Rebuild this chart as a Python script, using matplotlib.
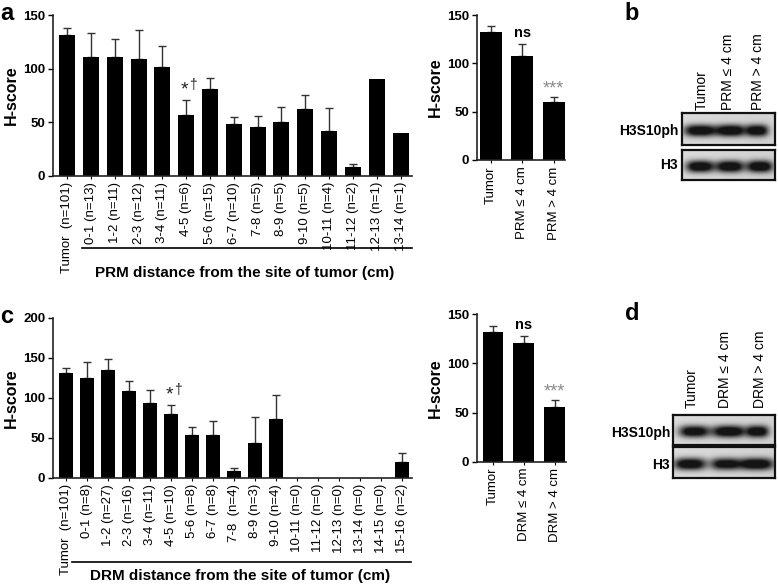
import numpy as np
import matplotlib
matplotlib.use('Agg')
import matplotlib.pyplot as plt
from matplotlib.lines import Line2D

plt.rcParams['font.family'] = ['Liberation Sans', 'DejaVu Sans']

# ---- data ----
prm_labels = ['Tumor  (n=101)', '0-1 (n=13)', '1-2 (n=11)', '2-3 (n=12)', '3-4 (n=11)',
              '4-5 (n=6)', '5-6 (n=15)', '6-7 (n=10)', '7-8 (n=5)', '8-9 (n=5)',
              '9-10 (n=5)', '10-11 (n=4)', '11-12 (n=2)', '12-13 (n=1)', '13-14 (n=1)']
prm_score = [131, 111, 111, 108.6, 101, 57, 81, 48, 45, 50, 62.5, 42, 8, 90, 40]
prm_err   = [7, 22.5, 17, 27.5, 20.5, 13.5, 10.5, 7, 10.5, 14.5, 12.5, 21.5, 2.5, 0, 0]

prm_grp_labels = ['Tumor', 'PRM \u2264 4 cm', 'PRM > 4 cm']
prm_grp_score  = [132, 108, 59.5]
prm_grp_err    = [7, 11.5, 5.5]

drm_labels = ['Tumor  (n=101)', '0-1 (n=8)', '1-2 (n=27)', '2-3 (n=16)', '3-4 (n=11)',
              '4-5 (n=10)', '5-6 (n=8)', '6-7 (n=8)', '7-8  (n=4)', '8-9 (n=3)',
              '9-10 (n=4)', '10-11 (n=0)', '11-12 (n=0)', '12-13 (n=0)', '13-14 (n=0)',
              '14-15 (n=0)', '15-16 (n=2)']
drm_score = [130.5, 125, 135, 109, 93, 79.5, 53, 54, 9, 43, 73, 0, 0, 0, 0, 0, 20]
drm_err   = [7, 20, 13, 12, 17, 11, 10, 17.5, 3.5, 33, 31, 0, 0, 0, 0, 0, 10.5]

drm_grp_labels = ['Tumor', 'DRM \u2264 4 cm', 'DRM > 4 cm']
drm_grp_score  = [131.5, 121, 55.5]
drm_grp_err    = [7, 7, 7]

W, H = 778, 584
fig = plt.figure(figsize=(W / 100, H / 100), dpi=100)


def rect(x0, y0, x1, y1):
    # pixel box (top-left origin) -> figure fraction rect
    return [x0 / W, 1 - y1 / H, (x1 - x0) / W, (y1 - y0) / H]


def bar_panel(r, vals, errs, labels, ylim, yticks, xlim, width, lab_size):
    ax = fig.add_axes(r)
    vals = np.asarray(vals, float)
    errs = np.asarray(errs, float)
    x = np.arange(len(vals))
    ax.bar(x, vals, width=width, color='black', zorder=2)
    m = errs > 0
    ax.errorbar(x[m], vals[m], yerr=[np.zeros(m.sum()), errs[m]], fmt='none',
                ecolor='#333333', elinewidth=1, capsize=3, capthick=1, zorder=1)
    ax.set_xlim(*xlim)
    ax.set_ylim(*ylim)
    ax.set_yticks(yticks)
    ax.set_xticks(x)
    ax.set_xticklabels(labels, rotation=90, fontsize=lab_size, va='top', ha='center')
    for lab in ax.get_yticklabels():
        lab.set_fontweight('bold')
        lab.set_fontsize(9.5)
    ax.tick_params(axis='y', length=3.5, width=1, pad=2)
    ax.tick_params(axis='x', length=2.5, width=0.8, pad=2)
    for s in ['top', 'right']:
        ax.spines[s].set_visible(False)
    for s in ['left', 'bottom']:
        ax.spines[s].set_linewidth(1.2)
        ax.spines[s].set_color('#222222')
    ax.set_ylabel('H-score', fontsize=11.5, fontweight='bold', labelpad=3)
    ax.patch.set_alpha(0)
    return ax, vals, errs


def star_dagger(ax, i, vals, errs):
    top = vals[i] + errs[i]
    ax.annotate('*', (i, top), xytext=(-1, 1), textcoords='offset points',
                ha='center', va='bottom', fontsize=14, color='#222222')
    ax.annotate('\u2020', (i, top), xytext=(5, 6), textcoords='offset points',
                ha='center', va='bottom', fontsize=10, color='#222222')


def sig_marks(ax, vals, errs):
    t1 = vals[1] + errs[1]
    t2 = vals[2] + errs[2]
    ax.annotate('ns', (1, t1), xytext=(0, 3), textcoords='offset points',
                ha='center', va='bottom', fontsize=10.5, fontweight='bold')
    ax.annotate('***', (2, t2), xytext=(0, 0), textcoords='offset points',
                ha='center', va='bottom', fontsize=13, color='#8a8a8a')


# panel a
ax_a, v, e = bar_panel(rect(53, 15, 412, 175.7), prm_score, prm_err, prm_labels,
                       (0, 150), [0, 50, 100, 150], (-0.59, 14.48), 0.67, 9.5)
star_dagger(ax_a, 5, v, e)
fig.add_artist(Line2D([82 / W, 412 / W], [1 - 248 / H] * 2, color='black', lw=1.2))
fig.text(245 / W, 1 - 273 / H, 'PRM distance from the site of tumor (cm)',
         ha='center', va='center', fontsize=11, fontweight='bold')

ax_a2, v, e = bar_panel(rect(476.7, 15, 565, 160), prm_grp_score, prm_grp_err, prm_grp_labels,
                        (0, 150), [0, 50, 100, 150], (-0.44, 2.36), 0.7, 9.5)
sig_marks(ax_a2, v, e)

# panel c
ax_c, v, e = bar_panel(rect(53, 317.7, 411.7, 477.7), drm_score, drm_err, drm_labels,
                       (0, 200), [0, 50, 100, 150, 200], (-0.62, 16.44), 0.67, 9.5)
star_dagger(ax_c, 5, v, e)
fig.add_artist(Line2D([72 / W, 411 / W], [1 - 562 / H] * 2, color='black', lw=1.2))
fig.text(240 / W, 1 - 576 / H, 'DRM distance from the site of tumor (cm)',
         ha='center', va='center', fontsize=11, fontweight='bold')

ax_c2, v, e = bar_panel(rect(476.7, 314.3, 566, 461.7), drm_grp_score, drm_grp_err, drm_grp_labels,
                        (0, 150), [0, 50, 100, 150], (-0.53, 2.37), 0.68, 9.5)
sig_marks(ax_c2, v, e)


# ---- western blots ----
def blot(box, bands):
    # box in pixels; bands: list of (x centre, half width, darkness) inside the box
    x0, y0, x1, y1 = box
    bw, bh = x1 - x0, y1 - y0
    ax = fig.add_axes(rect(*box))
    xs = np.linspace(0, bw, 300)
    ys = np.linspace(0, bh, 100)
    X, Y = np.meshgrid(xs, ys)
    img = np.full(X.shape, 0.86)
    img -= 0.04 * (X / bw)
    yc = bh * 0.55
    for cx, hw, d in bands:
        prof = np.exp(-np.abs((X - cx) / hw) ** 3) * np.exp(-np.abs((Y - yc) / 6.0) ** 2.2)
        img -= d * prof
    img = np.clip(img, 0.08, 1)
    ax.imshow(img, cmap='gray', vmin=0, vmax=1, extent=[0, bw, bh, 0], aspect='auto',
              interpolation='bilinear')
    ax.set_xticks([])
    ax.set_yticks([])
    for s in ax.spines.values():
        s.set_linewidth(1.6)
        s.set_color('#111111')
    return ax


b_h3s10 = [(18, 16, 1.0), (49, 15, 1.0), (75.5, 11, 0.95)]
b_h3    = [(18, 14, 1.0), (48, 14, 1.0), (78, 13, 1.0)]
d_h3s10 = [(21, 15, 0.95), (56, 17, 1.0), (85, 11, 0.95)]
d_h3    = [(17, 16, 1.0), (52, 14, 0.9), (83, 18, 1.0)]

blot((682, 113, 775, 145), b_h3s10)
blot((682, 150, 775, 180), b_h3)
blot((673, 415, 775, 445), d_h3s10)
blot((673, 447, 775, 478), d_h3)

for txt, px, py in [('H3S10ph', 678, 131), ('H3', 678, 165),
                    ('H3S10ph', 670, 433), ('H3', 670, 465)]:
    fig.text(px / W, 1 - py / H, txt, ha='right', va='center', fontsize=10, fontweight='bold')

for labels, xs, py in [(prm_grp_labels, [702, 728, 758], 110),
                       (drm_grp_labels, [692, 725, 760], 408)]:
    for lab, px in zip(labels, xs):
        fig.text(px / W, 1 - py / H, lab, rotation=90, ha='center', va='bottom', fontsize=10)

# panel letters
for letter, px, py in [('a', 7, 13), ('b', 632, 14), ('c', 7, 316), ('d', 632, 313)]:
    fig.text(px / W, 1 - py / H, letter, ha='center', va='center', fontsize=17, fontweight='bold')

fig.savefig('out.png', dpi=100)
